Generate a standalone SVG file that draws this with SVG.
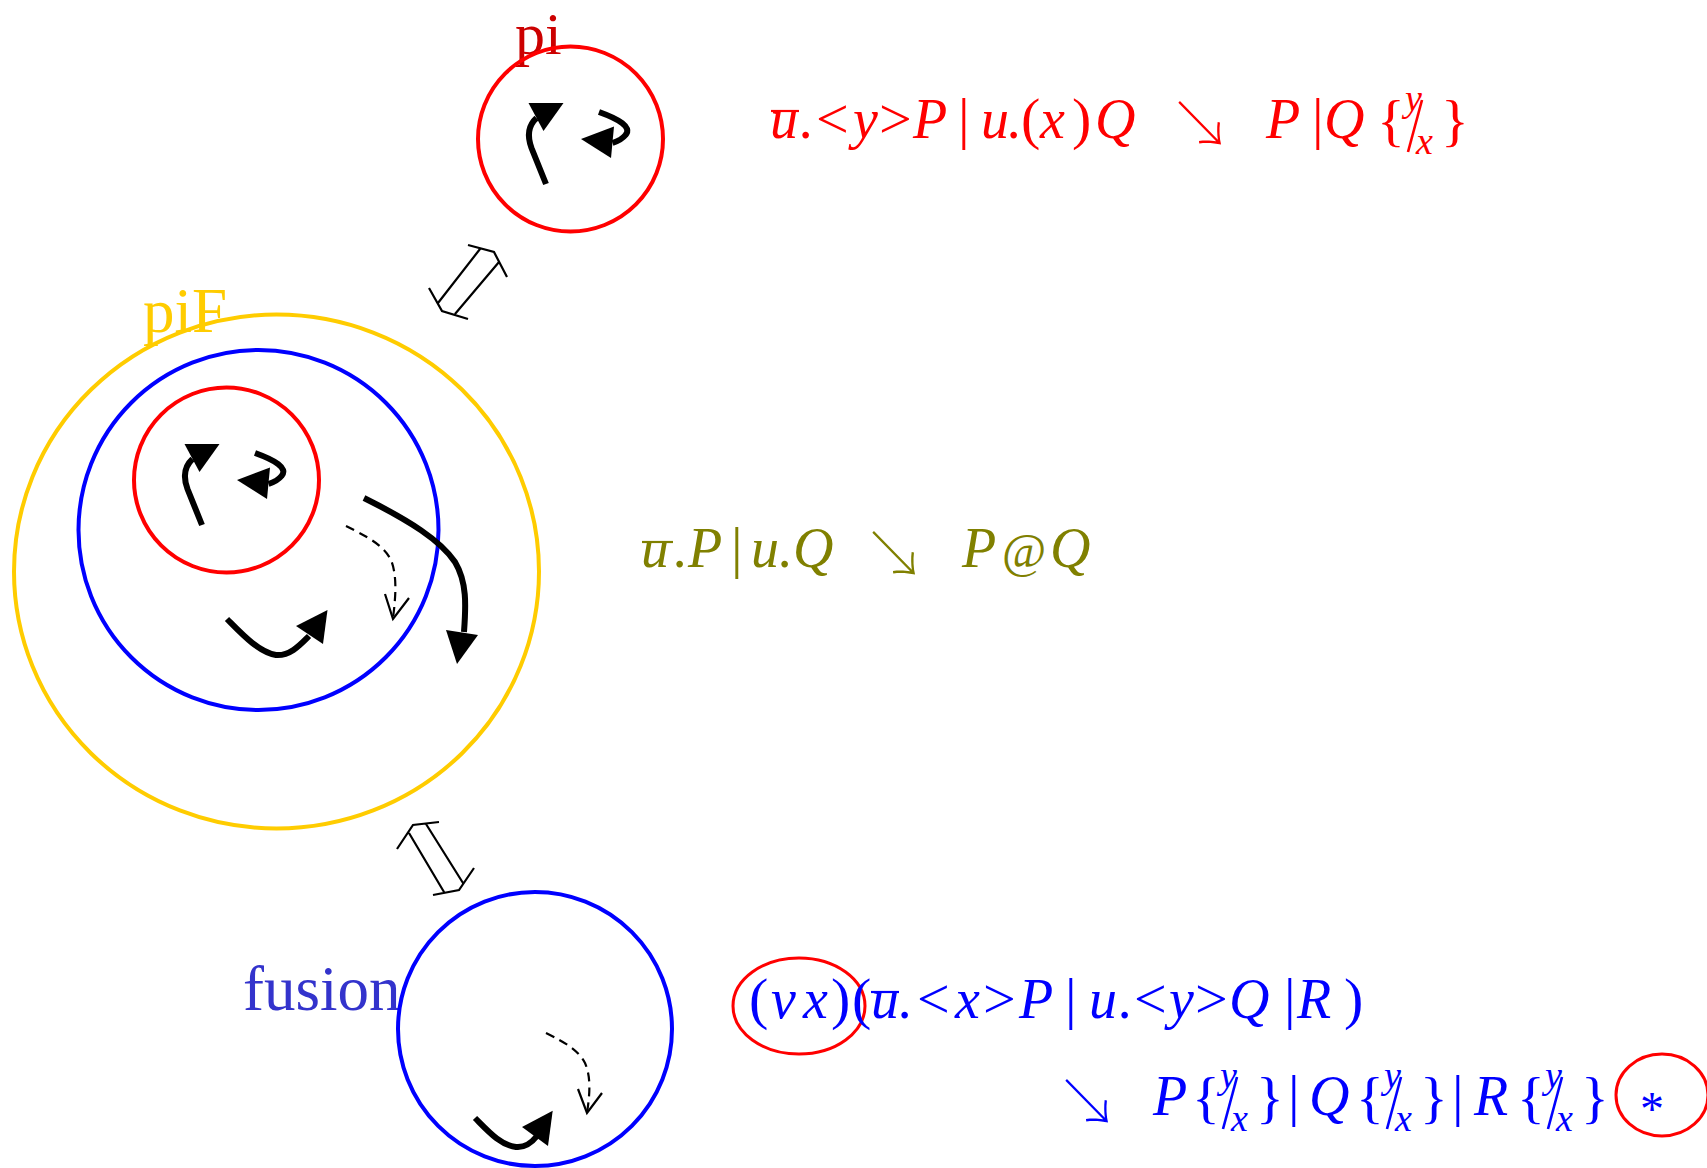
<svg xmlns="http://www.w3.org/2000/svg" xmlns:xlink="http://www.w3.org/1999/xlink" width="1707" height="1168" viewBox="0 0 1707 1168">
<style>
.lbl{font-family:"Liberation Serif",serif;font-size:63px}
.f{font-family:"Liberation Serif",serif;font-style:italic;font-size:56px}
.up{font-style:normal;font-size:58px}
.sc{font-size:38px}
.ar{font-family:"Noto Sans CJK SC","DejaVu Sans",sans-serif;font-style:normal;font-size:64px;font-weight:100}
.red{fill:#ff0000}.olive{fill:#808000}.blue{fill:#0000ff}
.ring{fill:none;stroke-width:4}
.thick{fill:none;stroke:#000;stroke-width:6}
.dash{fill:none;stroke:#000;stroke-width:2.2;stroke-dasharray:9 6}
.thin{fill:none;stroke:#000;stroke-width:2.2}
.ov{stroke-width:2.2}
.fr{stroke-width:2.6}
</style>
<defs>
<g id="piArrows">
<path class="thick" d="M-24.5,45 L-39,9 Q-46,-10 -34,-21"/>
<polygon points="-42,-36 -7,-36 -27,-8" fill="#000"/>
<path class="thick" d="M28.5,-27 C48,-20 62,-12 55,-4 Q51,1 42,4"/>
<polygon points="10.5,0 43.5,-12.5 40.5,19" fill="#000"/>
</g>
</defs>

<g id="node-pi">
<text class="lbl" x="515" y="54" fill="#cc0000" style="font-size:60px">pi</text>
<circle class="ring" cx="570.5" cy="139" r="92.5" stroke="#ff0000"/>
<use xlink:href="#piArrows" transform="translate(570.5,139)"/>
</g>

<g id="node-piF">
<text class="lbl" x="143" y="332" fill="#ffcc00">piF</text>
<ellipse class="ring" cx="276.5" cy="571.5" rx="262.5" ry="257" stroke="#ffcc00"/>
<circle class="ring" cx="258.5" cy="530" r="180" stroke="#0000ff"/>
<circle class="ring" cx="226.5" cy="480" r="92.5" stroke="#ff0000"/>
<use xlink:href="#piArrows" transform="translate(226.5,480)"/>
<path class="thick" d="M364,498 C410,521 440,540 455,562 C467,582 466,605 464,632"/>
<polygon points="446,630 478,635 457,664" fill="#000"/>
<path class="dash" d="M346,526 C370,538 384,546 391,560 C397,575 396,595 393,618"/>
<path class="thin" d="M385,594 L393,619 L409,598"/>
<path class="thick" d="M227,619 C240,632 258,652 276,655 C290,656 300,645 309,636"/>
<polygon points="296,626 327.5,610 323,644" fill="#000"/>
</g>

<g id="node-fusion">
<text class="lbl" x="243" y="1010" fill="#3333cc">fusion</text>
<circle class="ring" cx="535" cy="1029" r="137" stroke="#0000ff"/>
<path class="thick" d="M475,1118 C488,1131 500,1145 516,1147 C526,1148 533,1141 537,1136"/>
<polygon points="522,1127 552.7,1110.7 548,1146" fill="#000"/>
<path class="dash" d="M546,1033 C566,1043 578,1050 585,1063 C591,1077 590,1093 587,1113"/>
<path class="thin" d="M578,1089 L587,1113 L602,1093"/>
</g>

<g id="connectors">
<path class="thin" d="M468,245 L494,252 L507,277 M429,288 L442,311 L468,319 M480,249 L438,303 M499,262 L455,314"/>
<path class="thin" d="M397,849 L413,825 L439,822 M433,895 L459,890 L474,868 M409,833 L444,892 M426,824 L463,883"/>
</g>

<g id="formula-pi">
<line class="ov" x1="771" y1="111" x2="799" y2="111" stroke="#ff0000"/>
<line class="fr" x1="1408" y1="152" x2="1422" y2="100" stroke="#ff0000"/>
<text class="f red"><tspan x="770" y="138">u</tspan><tspan x="800" y="138">.</tspan><tspan class="up" x="816" y="138">&lt;</tspan><tspan x="853" y="138">y</tspan><tspan class="up" x="879" y="138">&gt;</tspan><tspan x="913" y="138">P</tspan><tspan class="up" x="958" y="138">|</tspan><tspan x="981" y="138">u</tspan><tspan x="1008" y="138">.</tspan><tspan class="up" x="1021" y="138">(</tspan><tspan x="1040" y="138">x</tspan><tspan class="up" x="1072" y="138">)</tspan><tspan x="1095" y="138">Q</tspan><tspan class="ar" x="1168" y="147">↘</tspan><tspan x="1266" y="138">P</tspan><tspan class="up" x="1312" y="138">|</tspan><tspan x="1324" y="138">Q</tspan><tspan class="up" x="1377" y="140">{</tspan><tspan class="sc" x="1405" y="111">y</tspan><tspan class="sc" x="1416" y="154">x</tspan><tspan class="up" x="1441" y="140">}</tspan></text>
</g>

<g id="formula-piF">
<line class="ov" x1="642" y1="542" x2="673" y2="542" stroke="#808000"/>
<text class="f olive"><tspan x="641" y="567">u</tspan><tspan x="674" y="567">.</tspan><tspan x="688" y="567">P</tspan><tspan class="up" x="731" y="567">|</tspan><tspan x="751" y="567">u</tspan><tspan x="779" y="567">.</tspan><tspan x="793" y="567">Q</tspan><tspan class="ar" x="862" y="577">↘</tspan><tspan x="962" y="567">P</tspan><tspan class="up" x="1002" y="567" style="font-size:48px">@</tspan><tspan x="1050" y="567">Q</tspan></text>
</g>

<g id="formula-fusion">
<ellipse cx="799" cy="1006" rx="66" ry="48" fill="none" stroke="#ff0000" stroke-width="3"/>
<line class="ov" x1="871" y1="992" x2="899" y2="992" stroke="#0000ff"/>
<text class="f blue"><tspan class="up" x="749" y="1018">(</tspan><tspan x="771" y="1018">ν</tspan><tspan x="803" y="1018">x</tspan><tspan class="up" x="831" y="1018">)</tspan><tspan class="up" x="852" y="1018">(</tspan><tspan x="871" y="1018">u</tspan><tspan x="899" y="1018">.</tspan><tspan class="up" x="917" y="1018">&lt;</tspan><tspan x="955" y="1018">x</tspan><tspan class="up" x="983" y="1018">&gt;</tspan><tspan x="1019" y="1018">P</tspan><tspan class="up" x="1065" y="1018">|</tspan><tspan x="1089" y="1018">u</tspan><tspan x="1119" y="1018">.</tspan><tspan class="up" x="1134" y="1018">&lt;</tspan><tspan x="1169" y="1018">y</tspan><tspan class="up" x="1195" y="1018">&gt;</tspan><tspan x="1229" y="1018">Q</tspan><tspan class="up" x="1284" y="1018">|</tspan><tspan x="1297" y="1018">R</tspan><tspan class="up" x="1344" y="1018">)</tspan></text>
<line class="fr" x1="1223" y1="1129" x2="1237" y2="1077" stroke="#0000ff"/>
<line class="fr" x1="1387" y1="1129" x2="1401" y2="1077" stroke="#0000ff"/>
<line class="fr" x1="1548" y1="1129" x2="1562" y2="1077" stroke="#0000ff"/>
<text class="f blue"><tspan class="ar" x="1055" y="1125">↘</tspan><tspan x="1153" y="1115">P</tspan><tspan class="up" x="1192" y="1117">{</tspan><tspan class="sc" x="1220" y="1088">y</tspan><tspan class="sc" x="1231" y="1131">x</tspan><tspan class="up" x="1256" y="1117">}</tspan><tspan class="up" x="1288" y="1115">|</tspan><tspan x="1309" y="1115">Q</tspan><tspan class="up" x="1356" y="1117">{</tspan><tspan class="sc" x="1384" y="1088">y</tspan><tspan class="sc" x="1395" y="1131">x</tspan><tspan class="up" x="1420" y="1117">}</tspan><tspan class="up" x="1452" y="1115">|</tspan><tspan x="1474" y="1115">R</tspan><tspan class="up" x="1517" y="1117">{</tspan><tspan class="sc" x="1545" y="1088">y</tspan><tspan class="sc" x="1556" y="1131">x</tspan><tspan class="up" x="1581" y="1117">}</tspan></text>
<ellipse cx="1662" cy="1095" rx="46" ry="41" fill="none" stroke="#ff0000" stroke-width="3"/>
<text class="f blue" x="1652" y="1125" text-anchor="middle" style="font-style:normal;font-size:48px">*</text>
</g>
</svg>
